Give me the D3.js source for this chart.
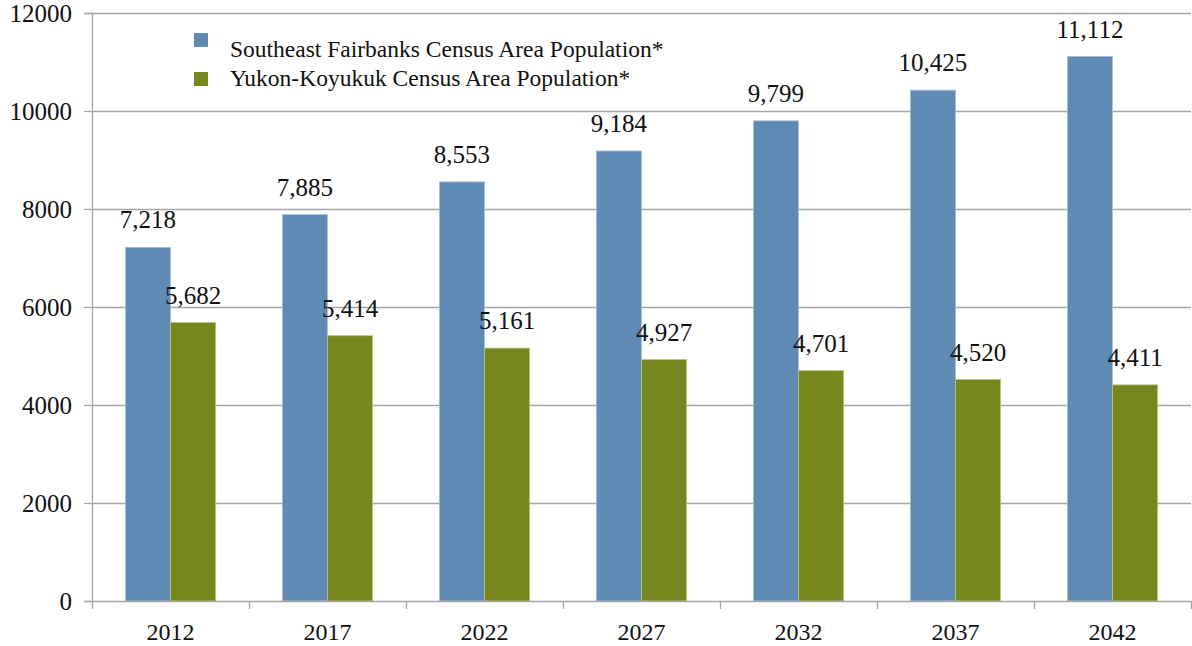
<!DOCTYPE html>
<html>
<head>
<meta charset="utf-8">
<script src="https://cdn.jsdelivr.net/npm/d3@7"></script>
<style>
  body { margin: 0; background: #fff; }
  svg text { font-family: "Liberation Serif", "DejaVu Serif", serif; fill: #111; }
</style>
</head>
<body>
<script>
// data
var years = ["2012", "2017", "2022", "2027", "2032", "2037", "2042"];
var southeast = [7218, 7885, 8553, 9184, 9799, 10425, 11112];
var yukon = [5682, 5414, 5161, 4927, 4701, 4520, 4411];
var seriesNames = ["Southeast Fairbanks Census Area Population*", "Yukon-Koyukuk Census Area Population*"];
var yTicks = [0, 2000, 4000, 6000, 8000, 10000, 12000];

var colors = ["#5e8ab4", "#76871f"];
var strokes = ["#a8c0da", "#b6c77a"];

var margin = {top: 13, right: 1, bottom: 45, left: 92},
    width = 1192 - margin.left - margin.right,
    height = 646 - margin.top - margin.bottom;

var svg = d3.select("body").append("svg")
    .attr("width", 1192)
    .attr("height", 646)
    .append("g")
    .attr("transform", "translate(" + margin.left + "," + margin.top + ")");

// scales
var xScale = d3.scaleBand().domain(years).range([0, width]).paddingInner(0).paddingOuter(0);
var inner = d3.scaleBand().domain([0, 1]).range([0, xScale.bandwidth()]).paddingOuter(0.74).paddingInner(0);
var yScale = d3.scaleLinear().domain([0, 12000]).range([height, 0]);

// gridlines
svg.append("g")
    .selectAll("line")
    .data(yTicks.slice(1))
    .enter()
    .append("line")
    .attr("x1", 0)
    .attr("x2", width)
    .attr("y1", d => yScale(d) + 0.5)
    .attr("y2", d => yScale(d) + 0.5)
    .attr("stroke", "#a6a6a6")
    .attr("stroke-width", 1.3);

// y-axis
var yAxis = svg.append("g")
    .call(d3.axisLeft(yScale).tickValues(yTicks).tickSize(8).tickPadding(12).tickFormat(d3.format("d")));
yAxis.attr("font-family", "Liberation Serif").attr("font-size", "25px");
yAxis.select(".domain").attr("stroke", "#a6a6a6").attr("stroke-width", 1.3);
yAxis.selectAll(".tick line").attr("stroke", "#a6a6a6").attr("stroke-width", 1.3);
yAxis.selectAll("text").style("font-size", "25px").attr("fill", "#111");

// bars
var series = [southeast, yukon];
series.forEach(function(vals, si) {
  var g = svg.append("g");
  g.selectAll("rect")
    .data(vals)
    .enter()
    .append("rect")
    .attr("x", (d, i) => xScale(years[i]) + inner(si))
    .attr("y", d => yScale(d))
    .attr("width", inner.bandwidth())
    .attr("height", d => height - yScale(d))
    .attr("fill", colors[si])
    .attr("stroke", strokes[si])
    .attr("stroke-width", 0.8);

  // value labels
  g.selectAll("text")
    .data(vals)
    .enter()
    .append("text")
    .attr("x", (d, i) => xScale(years[i]) + inner(si) + inner.bandwidth() / 2)
    .attr("y", d => yScale(d) - 19)
    .attr("text-anchor", "middle")
    .style("font-size", "25px")
    .text(d => d3.format(",")(d));
});

// x-axis
var xAxis = svg.append("g")
    .attr("transform", "translate(0," + height + ")")
    .call(d3.axisBottom(xScale).tickSize(0).tickPadding(22));
xAxis.attr("font-family", "Liberation Serif").attr("font-size", "24px");
xAxis.select(".domain").attr("stroke", "#a6a6a6").attr("stroke-width", 1.3);
xAxis.selectAll("text").style("font-size", "24px").attr("fill", "#111");

// category separators on x-axis
svg.append("g")
    .selectAll("line")
    .data(years.concat(["end"]))
    .enter()
    .append("line")
    .attr("x1", (d, i) => i * xScale.step() + 0.5)
    .attr("x2", (d, i) => i * xScale.step() + 0.5)
    .attr("y1", height)
    .attr("y2", height + 8)
    .attr("stroke", "#a6a6a6")
    .attr("stroke-width", 1.3);

// legend
var legend = svg.append("g");
var legendRows = [{sq: 20, tx: 44}, {sq: 59, tx: 73}];
legendRows.forEach(function(r, i) {
  legend.append("rect")
    .attr("x", 102)
    .attr("y", r.sq)
    .attr("width", 14)
    .attr("height", 14)
    .attr("fill", colors[i]);
  legend.append("text")
    .attr("x", 138)
    .attr("y", r.tx)
    .style("font-size", "23.5px")
    .text(seriesNames[i]);
});
</script>
</body>
</html>
